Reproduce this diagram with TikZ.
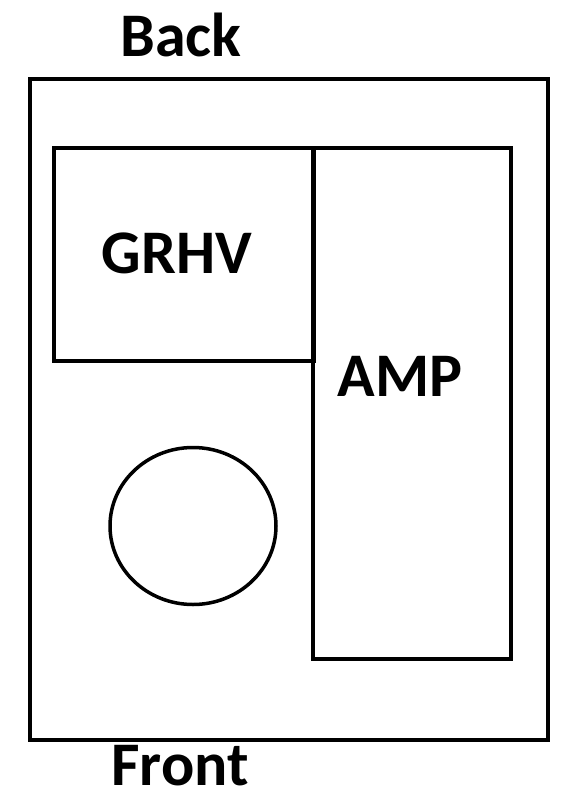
\documentclass[tikz,border=0pt]{standalone}
\usepackage{fontspec}
\setmainfont{Carlito}
\usepackage{tikz}
\usetikzlibrary{positioning,shapes.geometric}

\begin{document}
\begin{tikzpicture}[x=1pt, y=-1pt,
  part/.style={draw, line width=3.5pt, inner sep=0pt},
  lbl/.style={font=\fontsize{62}{62}\selectfont\bfseries, inner sep=0pt}
]
\useasboundingbox (0,0) rectangle (582,798);
% rack outline and modules
\node[part, minimum width=518pt, minimum height=661pt] (rack) at (289,409.5) {};
\node[part, minimum width=260pt, minimum height=213pt] (grhv) at (184,254.5) {};
\node[part, minimum width=198pt, minimum height=511pt] (amp) at (412,403.5) {};
\node[part, ellipse, minimum width=166pt, minimum height=157pt] (fan) at (193,526) {};
% labels
\node[lbl] (grhvtxt) at (177,253) {GRHV};
\node[lbl] (amptxt) at (400,376) {AMP};
\node[lbl] (back) at (181,35) {Back};
\node[lbl] (front) at (180,766) {Front};
\end{tikzpicture}
\end{document}
